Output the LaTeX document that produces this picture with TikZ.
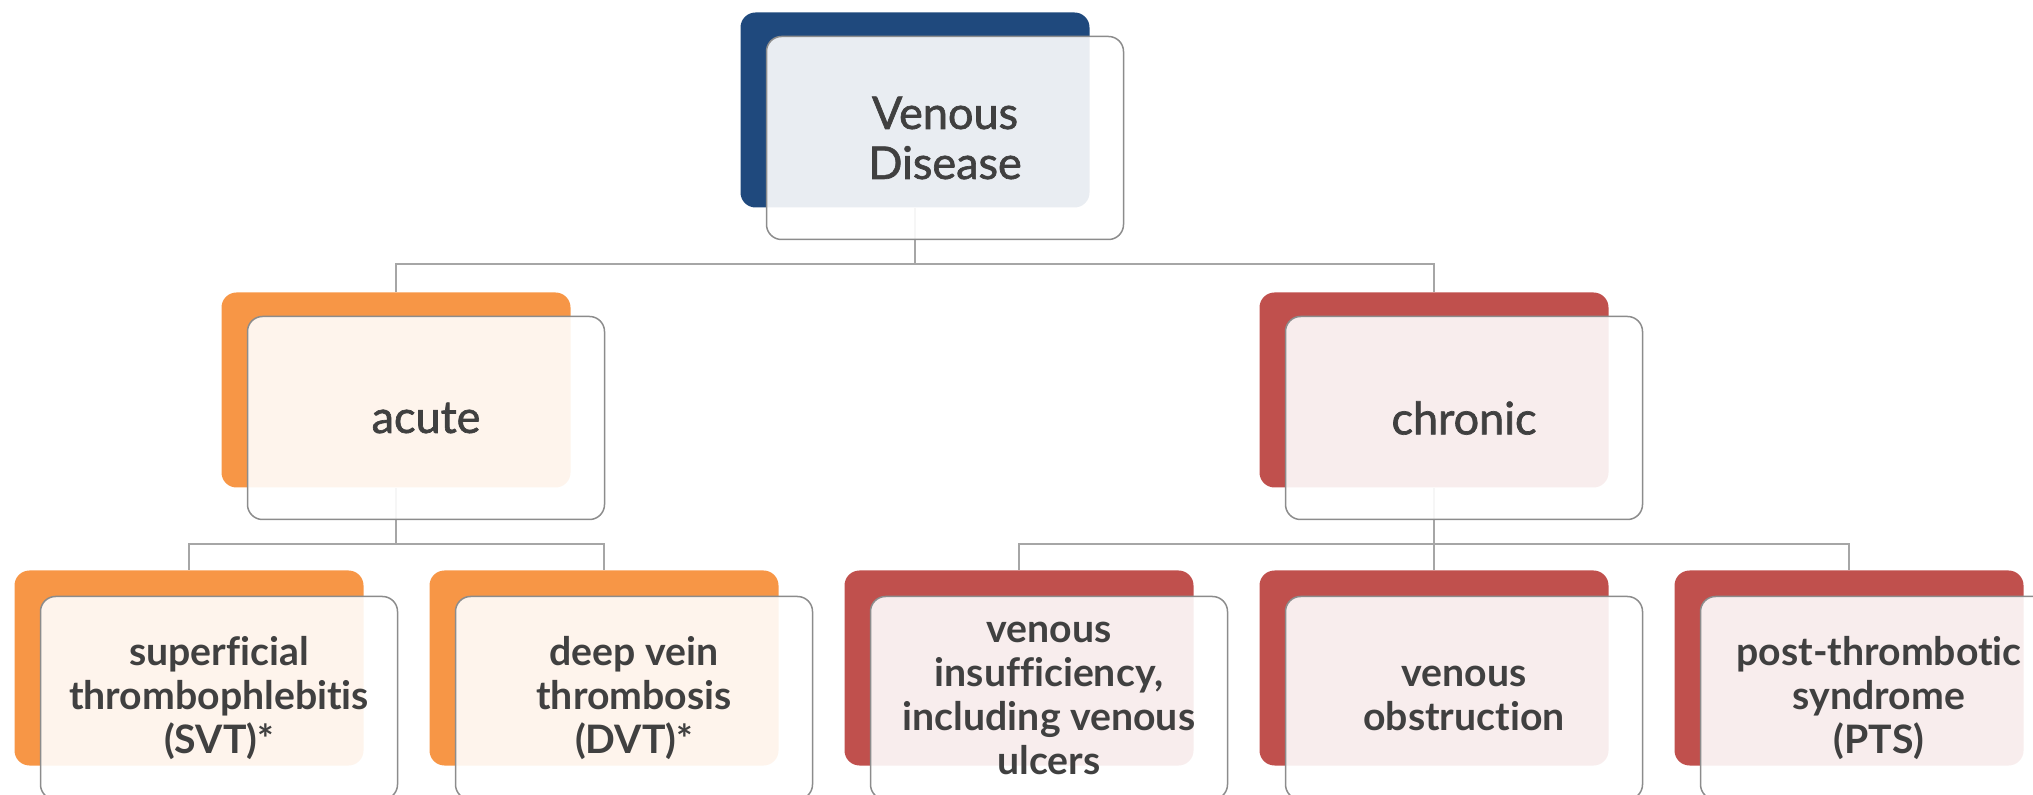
\documentclass[tikz,border=0pt]{standalone}
\usepackage{fontspec}
\setmainfont[Ligatures=NoCommon]{Lato}
\newfontfamily\medfont[FakeBold=1.5,Ligatures=NoCommon]{Lato}
\usetikzlibrary{backgrounds}

\definecolor{navy}{HTML}{1F497D}
\definecolor{vorange}{HTML}{F79646}
\definecolor{vred}{HTML}{C0504D}
\definecolor{txtgray}{HTML}{404040}
\definecolor{linegray}{HTML}{A6A6A6}
\definecolor{edgegray}{HTML}{8C8C8C}

\tikzset{
  backbox/.style={rounded corners=7.5pt, minimum width=174.5pt, minimum height=97.5pt,
    fill=#1, inner sep=0pt},
  frontbox/.style={rounded corners=7.5pt, minimum width=178.5pt, minimum height=101.5pt,
    draw=edgegray, line width=0.75pt, fill=white, fill opacity=0.9, text opacity=1,
    text=txtgray, align=center, inner sep=0pt},
  headtext/.style={font=\medfont\fontsize{22.5}{25}\selectfont},
  leaftext/.style={font=\bfseries\fontsize{19.6}{22}\selectfont, yshift=-1pt},
  conn/.style={draw=linegray, line width=1pt}
}

% name, x, y, colour, text style, text
\newcommand{\diseasebox}[6]{%
  \node[backbox=#4] (#1-b) at (#2,#3) {};
  \node[frontbox,#5] (#1) at ([shift={(30,28)}]#1-b.center) {#6};
}

\begin{document}
\begin{tikzpicture}[x=0.5pt,y=-0.5pt]
    \useasboundingbox (0,0) rectangle (2033,795);
    % top and second level
    \diseasebox{vd}{915}{110}{navy}{headtext}{Venous\\Disease}
    \diseasebox{acute}{396}{390}{vorange}{headtext}{acute}
    \diseasebox{chronic}{1434}{390}{vred}{headtext}{chronic}
    % leaves
    \diseasebox{svt}{189}{668}{vorange}{leaftext}{superficial\\thrombophlebitis\\(SVT)*}
    \diseasebox{dvt}{604}{668}{vorange}{leaftext}{deep vein\\thrombosis\\(DVT)*}
    \diseasebox{vi}{1019}{668}{vred}{leaftext}{venous\\insufficiency,\\including venous\\ulcers}
    \diseasebox{vo}{1434}{668}{vred}{leaftext}{venous\\obstruction}
    \diseasebox{pts}{1849}{668}{vred}{leaftext}{post-thrombotic\\syndrome\\(PTS)}
    % connectors
    \begin{scope}[on background layer]
        \draw[conn] (vd-b.south) -- ++(0,56) -| (acute-b.north);
        \draw[conn] (vd-b.south) -- ++(0,56) -| (chronic-b.north);
        \foreach \leaf in {svt,dvt}
            \draw[conn] (acute-b.south) -- ++(0,56) -| (\leaf-b.north);
        \foreach \leaf in {vi,vo,pts}
            \draw[conn] (chronic-b.south) -- ++(0,56) -| (\leaf-b.north);
    \end{scope}
\end{tikzpicture}
\end{document}
